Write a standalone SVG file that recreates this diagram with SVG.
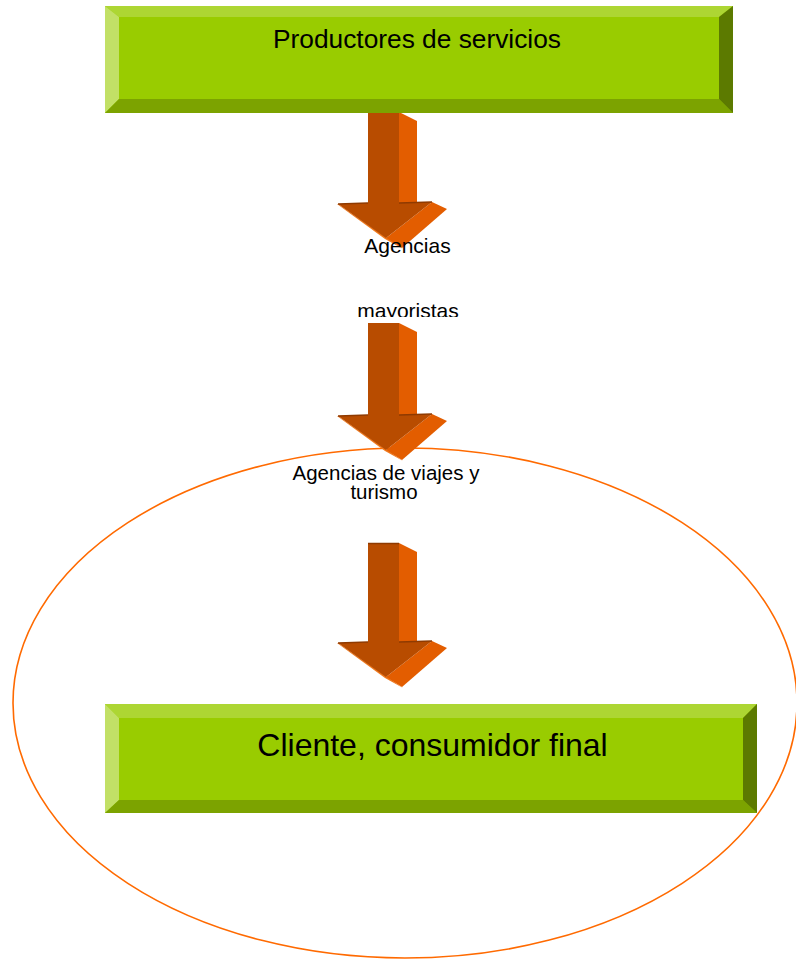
<svg xmlns="http://www.w3.org/2000/svg" width="796" height="959" viewBox="0 0 796 959">
  <defs>
    <style>
      .lbl { font-family: "Liberation Sans", Arial, sans-serif; fill: #000; text-anchor: middle; }
      .face { fill: #99cc00; }
      .bv-top { fill: #add633; }
      .bv-left { fill: #c2e066; }
      .bv-bottom { fill: #7ca300; }
      .bv-right { fill: #5c7a00; }
      .a-front { fill: #b84c00; }
      .a-side { fill: #e35d00; }
      .a-glow { fill: #f07a1e; }
      .a-edge { stroke: #8f3a00; stroke-width: 1.5; fill: none; }
    </style>
    <!-- arrow head, origin at the left end of the shaft's bottom edge -->
    <g id="arrowHead">
      <polygon class="a-glow" points="-31,1 17,36 35,46 -30,1"/>
      <polygon class="a-side" points="64,-1 79,6 34,45 18,35"/>
      <polygon class="a-front" points="0,0 31,0 64,-1 18,35 -30,1"/>
      <polyline class="a-edge" points="-30,1 0,0"/>
      <polyline class="a-edge" points="31,0 64,-1"/>
    </g>
    <clipPath id="cutMayoristas">
      <rect x="300" y="290" width="200" height="27"/>
    </clipPath>
  </defs>

  <!-- orange ellipse -->
  <ellipse cx="405" cy="703" rx="392" ry="255" fill="none" stroke="#ff6a00" stroke-width="1.6"/>

  <!-- connectors: block arrows -->
  <g id="connectors">
    <g id="arrow-1">
      <polygon class="a-side" points="399,112 417,121 417,203 399,203"/>
      <rect class="a-front" x="368" y="112" width="31" height="92"/>
      <use href="#arrowHead" x="368" y="203"/>
    </g>
    <g id="arrow-2">
      <polygon class="a-side" points="399,323 417,332 417,415 399,415"/>
      <rect class="a-front" x="368" y="323" width="31" height="93"/>
      <use href="#arrowHead" x="368" y="415"/>
    </g>
    <g id="arrow-3">
      <polygon class="a-side" points="399,543 417,552 417,642 399,642"/>
      <rect class="a-front" x="368" y="543" width="31" height="100"/>
      <line x1="368" y1="543.5" x2="399" y2="543.5" stroke="#8f3a00" stroke-width="1.5"/>
      <use href="#arrowHead" x="368" y="642"/>
    </g>
  </g>

  <!-- top bevelled box -->
  <g id="productores">
    <rect class="face" x="105" y="6" width="628" height="107"/>
    <polygon class="bv-top" points="105,6 733,6 719,17 119,17"/>
    <polygon class="bv-left" points="105,6 119,17 119,99 105,113"/>
    <polygon class="bv-bottom" points="105,113 119,99 719,99 733,113"/>
    <polygon class="bv-right" points="733,6 733,113 719,99 719,17"/>
    <text class="lbl" x="417" y="48" font-size="26.3">Productores de servicios</text>
  </g>

  <!-- intermediate labels -->
  <g id="mayoristas">
    <text class="lbl" x="407.5" y="253" font-size="21">Agencias</text>
    <text class="lbl" x="408" y="318" font-size="21" clip-path="url(#cutMayoristas)">mayoristas</text>
  </g>

  <g id="agencias-viajes">
    <text class="lbl" x="386" y="480" font-size="20.5">Agencias de viajes y</text>
    <text class="lbl" x="384" y="499" font-size="20.5">turismo</text>
  </g>

  <!-- bottom bevelled box -->
  <g id="cliente">
    <rect class="face" x="105" y="704" width="652" height="109"/>
    <polygon class="bv-top" points="105,704 757,704 743,718 119,718"/>
    <polygon class="bv-left" points="105,704 119,718 119,800 105,813"/>
    <polygon class="bv-bottom" points="105,813 119,800 743,800 757,813"/>
    <polygon class="bv-right" points="757,704 757,813 743,800 743,718"/>
    <text class="lbl" x="432.5" y="756" font-size="32">Cliente, consumidor final</text>
  </g>
</svg>
